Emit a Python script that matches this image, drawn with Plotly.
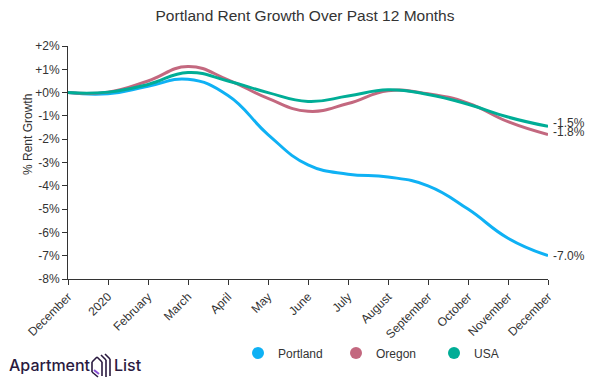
import plotly.graph_objects as go

tick_labels = ["December", "2020", "February", "March", "April", "May", "June",
               "July", "August", "September", "October", "November", "December"]
x_idx = list(range(len(tick_labels)))

portland = [0.0, -0.05, 0.27, 0.57, -0.12, -1.8, -3.1, -3.5, -3.62, -4.0, -5.0, -6.25, -7.0]
oregon = [0.0, 0.02, 0.5, 1.12, 0.55, -0.25, -0.8, -0.47, 0.08, -0.05, -0.45, -1.25, -1.8]
usa = [0.0, 0.02, 0.35, 0.86, 0.5, 0.0, -0.38, -0.15, 0.12, -0.08, -0.5, -1.05, -1.45]

series = [("Portland", portland, "#0fb1f4"),
          ("Oregon", oregon, "#c3687f"),
          ("USA", usa, "#00ad96")]
end_labels = ["-7.0%", "-1.8%", "-1.5%"]

y_ticks = list(range(-8, 3))
y_ticktext = [("+" if v >= 0 else "") + f"{v}%" for v in y_ticks]

FONT = "Liberation Sans, Arial, sans-serif"
fig = go.Figure()
for name, vals, col in series:
    fig.add_trace(go.Scatter(x=x_idx, y=vals, mode="lines", name=name,
                             line=dict(color=col, width=3, shape="spline", smoothing=1.3),
                             showlegend=False, hoverinfo="skip", cliponaxis=False))
for name, vals, col in series:
    fig.add_trace(go.Scatter(x=[None], y=[None], mode="markers", name=name,
                             marker=dict(color=col, size=6), showlegend=True))

for (name, vals, col), lab in zip(series, end_labels):
    fig.add_annotation(x=x_idx[-1], y=vals[-1], text=lab, showarrow=False,
                       xanchor="left", yanchor="middle", xshift=3,
                       yshift=(3 if name != "Portland" else 0),
                       font=dict(size=12, color="#333", family=FONT))

# page pixel -> paper coords (page has an 8px body margin)
def px(x):
    return (x - 68) / 480
def py(y):
    return (279 - y) / 233

# y-axis title
fig.add_annotation(xref="paper", yref="paper", x=px(28), y=py(135), text="% Rent Growth",
                   textangle=-90, showarrow=False, xanchor="center", yanchor="middle",
                   font=dict(size=12, color="#333", family=FONT))

# logo
LOGO = "#2a1a3f"
fig.add_annotation(xref="paper", yref="paper", x=px(7), y=py(365), text="Apartment",
                   showarrow=False, xanchor="left", yanchor="middle",
                   font=dict(size=16, color=LOGO, family="Inter, Lato, sans-serif", weight=500))
fig.add_annotation(xref="paper", yref="paper", x=px(112), y=py(365), text="List",
                   showarrow=False, xanchor="left", yanchor="middle",
                   font=dict(size=16, color=LOGO, family="Inter, Lato, sans-serif", weight=500))

for (x0, y0, x1, y1) in [(92, 362, 92, 372), (92, 362, 97, 357), (97, 357, 102, 362),
                         (102, 362, 102, 376), (92, 372, 98, 377),
                         (101, 355, 106, 360), (106, 360, 106, 377),
                         (105, 354, 110, 359), (110, 359, 110, 376)]:
    fig.add_shape(type="line", xref="paper", yref="paper",
                  x0=px(x0), y0=py(y0), x1=px(x1), y1=py(y1),
                  line=dict(color=LOGO, width=1.6))
fig.add_shape(type="line", xref="paper", yref="paper",
              x0=px(94), y0=py(370), x1=px(99), y1=py(374),
              line=dict(color="#8b4fd6", width=2))

fig.update_layout(
    width=587, height=376,
    margin=dict(l=60, r=47, t=38, b=105, autoexpand=False),
    paper_bgcolor="white", plot_bgcolor="white",
    font=dict(family=FONT, size=12, color="#333"),
    title=dict(text="Portland Rent Growth Over Past 12 Months", x=(305 - 8) / 587, xref="container",
               xanchor="center", y=1 - 8 / 376, yanchor="middle",
               font=dict(size=15.5, color="#333", family=FONT)),
    xaxis=dict(range=[0, 12], tickmode="array", tickvals=x_idx, ticktext=tick_labels,
               tickangle=-45, showgrid=False, zeroline=False, showline=True, automargin=False,
               linecolor="#333", linewidth=1, ticks="outside", ticklen=5, tickcolor="#333",
               tickfont=dict(size=12, color="#333")),
    yaxis=dict(range=[-8, 2], tickmode="array", tickvals=y_ticks, ticktext=y_ticktext,
               showgrid=False, zeroline=False, showline=True, linecolor="#333", automargin=False,
               linewidth=1, ticks="outside", ticklen=5, tickcolor="#333",
               tickfont=dict(size=12, color="#333")),
    legend=dict(orientation="h", x=px(238), y=py(353), xanchor="left",
                yanchor="middle", entrywidth=53, entrywidthmode="pixels",
                font=dict(size=12, color="#333"), itemsizing="constant",
                bgcolor="rgba(0,0,0,0)"),
    showlegend=True,
)

fig.write_html("out.html")
